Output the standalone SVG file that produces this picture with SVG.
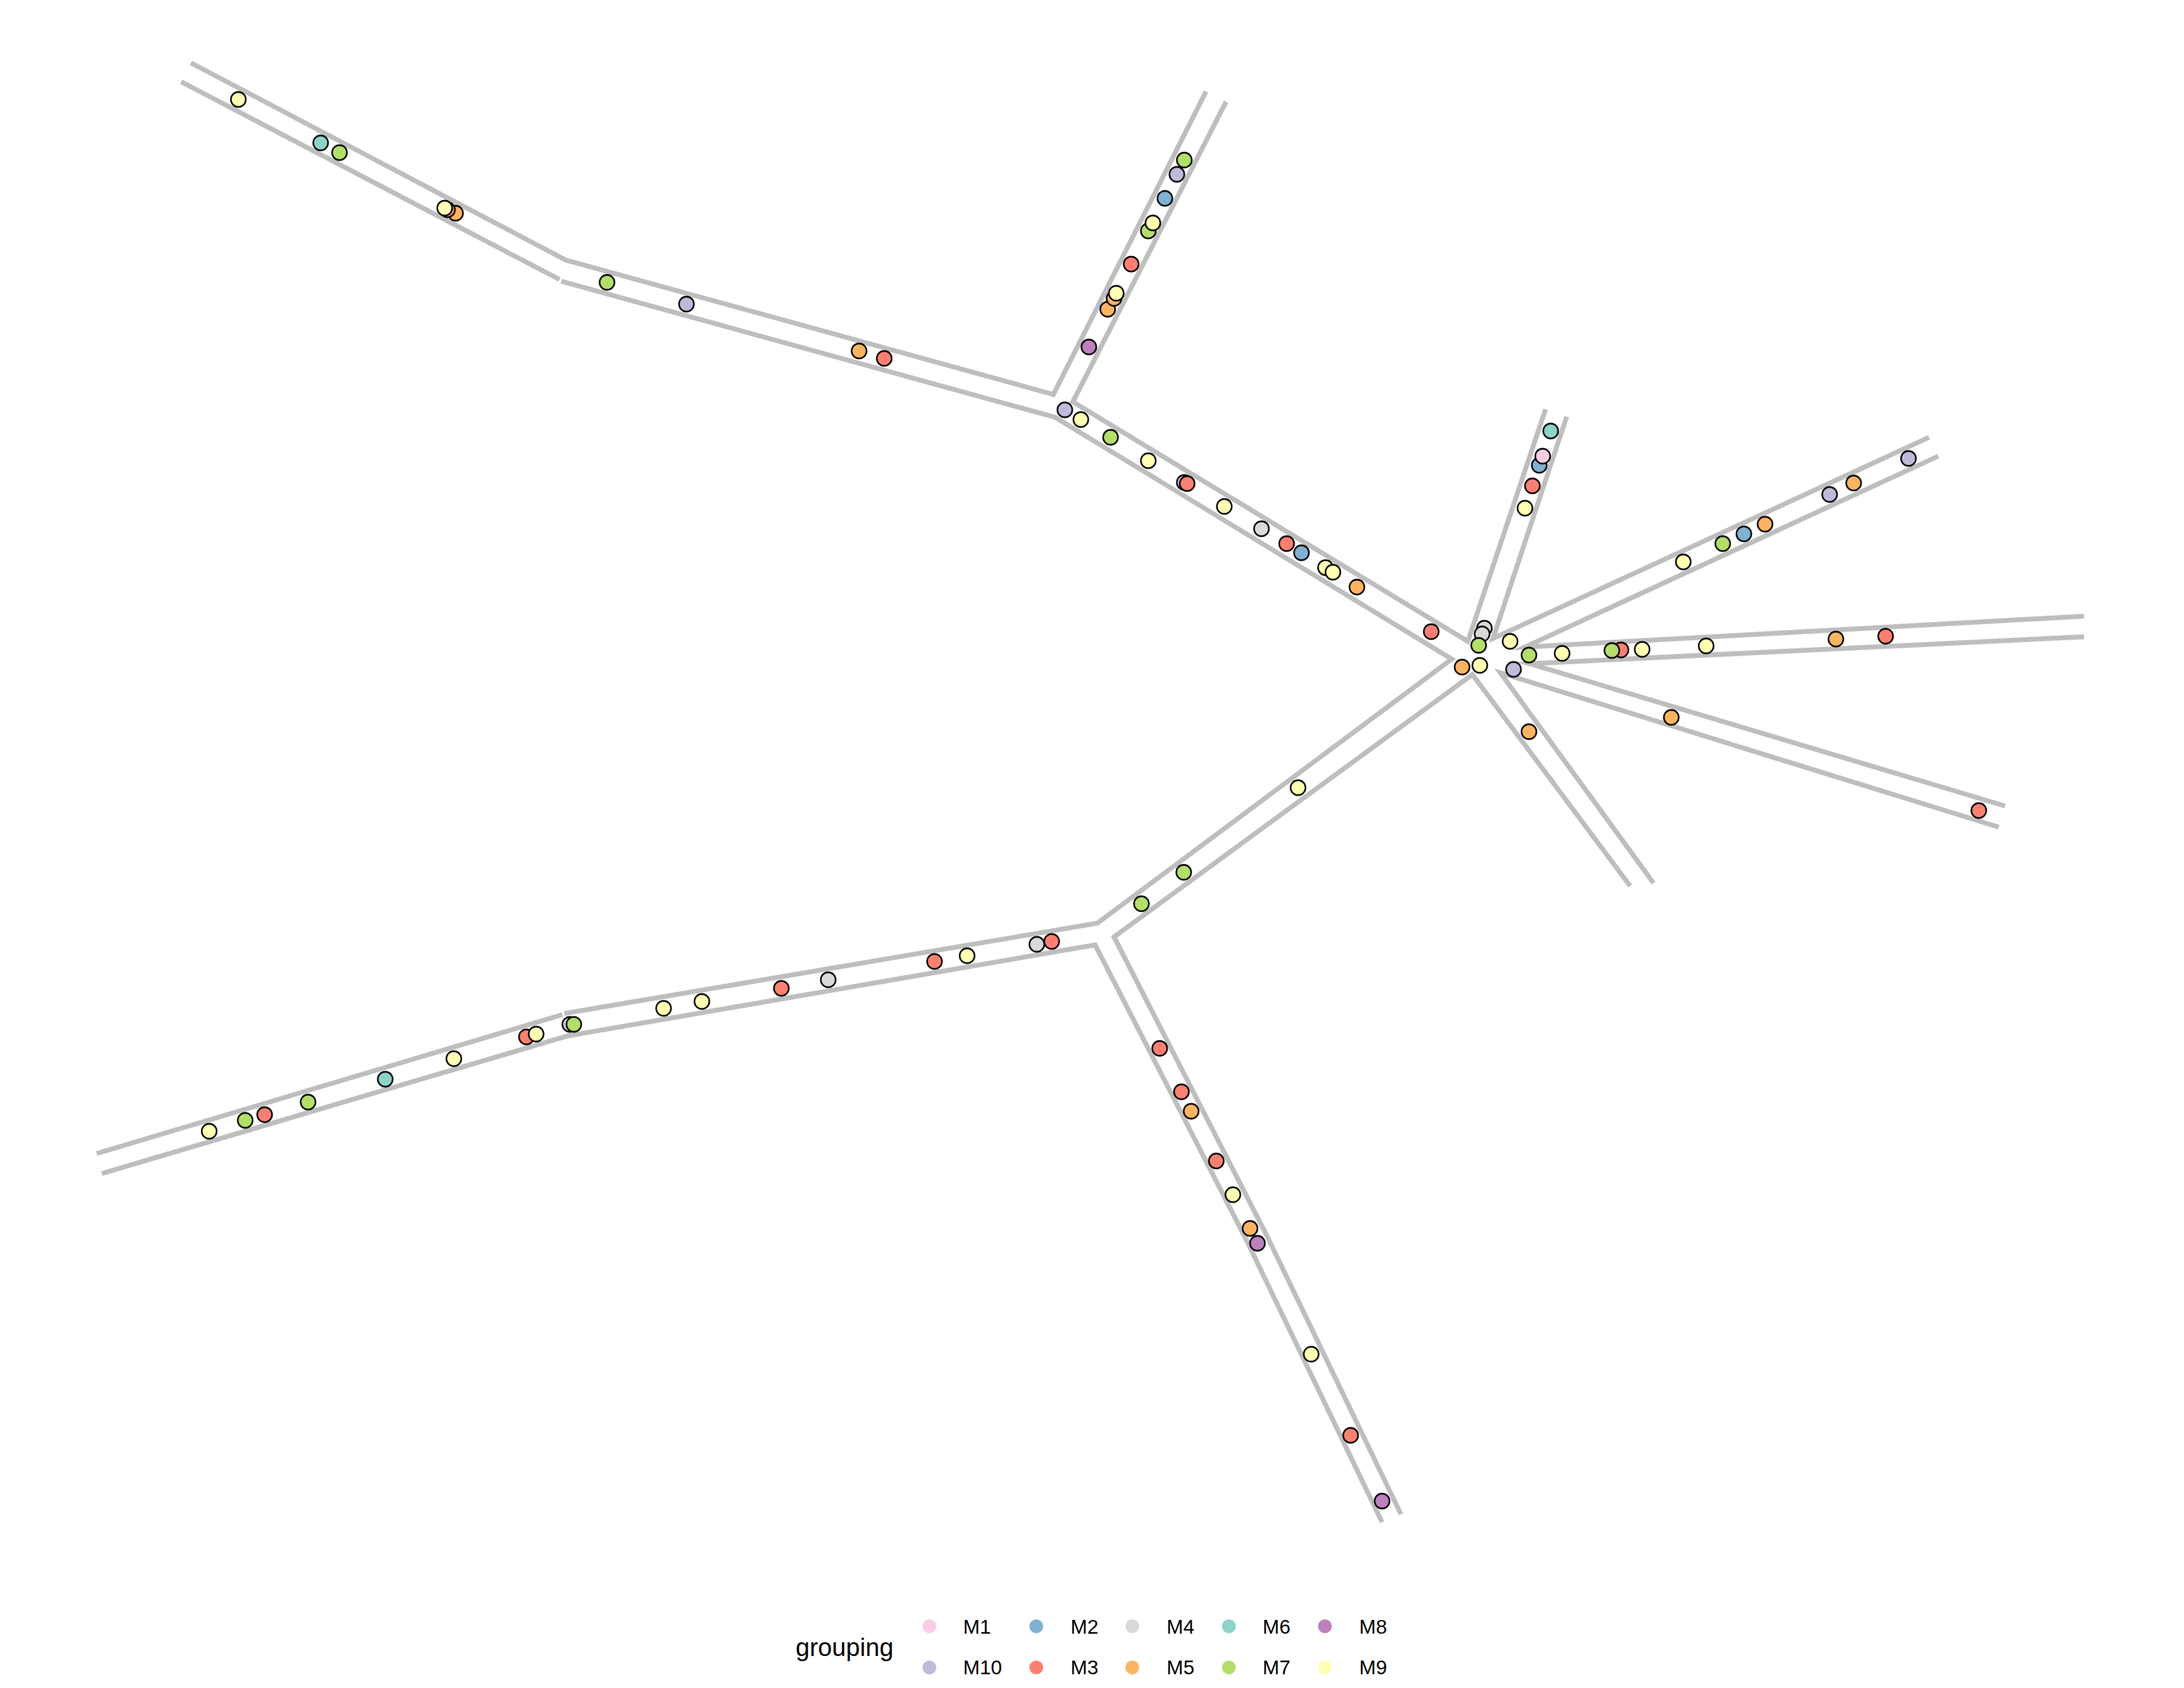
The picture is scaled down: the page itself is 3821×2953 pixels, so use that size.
<svg xmlns="http://www.w3.org/2000/svg" width="3821" height="2953" viewBox="0 0 3821 2953">
<style>
.edge{fill:none;stroke:#BEBEBE;stroke-width:8.5;stroke-linecap:butt;stroke-linejoin:miter;stroke-miterlimit:10}
.pt{stroke:#000;stroke-width:2.8}
.m1{fill:#FCCDE5}.m2{fill:#80B1D3}.m3{fill:#FB8072}.m4{fill:#D9D9D9}.m5{fill:#FDB462}
.m6{fill:#8DD3C7}.m7{fill:#B3DE69}.m8{fill:#BC80BD}.m9{fill:#FFFFB3}.m10{fill:#BEBADA}
.lt{font-family:"Liberation Sans",Arial,sans-serif;font-size:35px;fill:#000}
.title{font-family:"Liberation Sans",Arial,sans-serif;font-size:44px;fill:#000}
</style>
<rect width="3821" height="2953" fill="#fff"/>
<g id="connectors">
<polyline class="edge" points="334,110 990,455 1843,690 2110,160"/>
<polyline class="edge" points="317,143 979,489"/>
<polyline class="edge" points="982,492 1846,730 2540,1153 1920,1615 987,1773"/>
<polyline class="edge" points="984,1775 169,2018"/>
<polyline class="edge" points="2145,178 1877,703 2568,1122 2704,716"/>
<polyline class="edge" points="2741,729 2612,1117 3375,765"/>
<polyline class="edge" points="3391,798 2668,1132 3646,1078"/>
<polyline class="edge" points="3646,1114 2676,1161 3508,1410"/>
<polyline class="edge" points="3497,1447 2625,1177 2893,1545"/>
<polyline class="edge" points="2852,1550 2576,1180 1949,1639 2216,2161 2451,2649"/>
<polyline class="edge" points="2418,2663 2180,2168 1916,1653 994,1812 178,2053"/>
</g>
<g id="branch-topleft">
<circle class="pt m9" cx="417" cy="174" r="13"/>
<circle class="pt m6" cx="561" cy="250" r="13"/>
<circle class="pt m7" cx="594" cy="267" r="13"/>
<circle class="pt m5" cx="797" cy="373" r="13"/>
<circle class="pt m3" cx="783" cy="367" r="13"/>
<circle class="pt m9" cx="778" cy="364" r="13"/>
<circle class="pt m7" cx="1062" cy="494" r="13"/>
<circle class="pt m10" cx="1201" cy="532" r="13"/>
<circle class="pt m5" cx="1503" cy="614" r="13"/>
<circle class="pt m3" cx="1547" cy="627" r="13"/>
</g>
<g id="branch-up">
<circle class="pt m7" cx="2072" cy="280" r="13"/>
<circle class="pt m10" cx="2059" cy="305" r="13"/>
<circle class="pt m2" cx="2038" cy="347" r="13"/>
<circle class="pt m7" cx="2009" cy="404" r="13"/>
<circle class="pt m9" cx="2017" cy="390" r="13"/>
<circle class="pt m3" cx="1979" cy="462" r="13"/>
<circle class="pt m5" cx="1938" cy="541" r="13"/>
<circle class="pt m5" cx="1949" cy="522" r="13"/>
<circle class="pt m9" cx="1953" cy="513" r="13"/>
<circle class="pt m8" cx="1905" cy="607" r="13"/>
</g>
<g id="branch-diagonal">
<circle class="pt m10" cx="1863" cy="717" r="13"/>
<circle class="pt m9" cx="1891" cy="734" r="13"/>
<circle class="pt m7" cx="1943" cy="765" r="13"/>
<circle class="pt m9" cx="2009" cy="806" r="13"/>
<circle class="pt m4" cx="2072" cy="844" r="13"/>
<circle class="pt m3" cx="2077" cy="846" r="13"/>
<circle class="pt m9" cx="2142" cy="886" r="13"/>
<circle class="pt m4" cx="2207" cy="925" r="13"/>
<circle class="pt m3" cx="2251" cy="951" r="13"/>
<circle class="pt m2" cx="2277" cy="967" r="13"/>
<circle class="pt m9" cx="2319" cy="993" r="13"/>
<circle class="pt m9" cx="2332" cy="1001" r="13"/>
<circle class="pt m5" cx="2374" cy="1027" r="13"/>
<circle class="pt m3" cx="2504" cy="1105" r="13"/>
</g>
<g id="hub">
<circle class="pt m4" cx="2597" cy="1099" r="13"/>
<circle class="pt m4" cx="2593" cy="1109" r="13"/>
<circle class="pt m7" cx="2587" cy="1129" r="13"/>
<circle class="pt m5" cx="2558" cy="1167" r="13"/>
<circle class="pt m9" cx="2589" cy="1164" r="13"/>
<circle class="pt m9" cx="2642" cy="1122" r="13"/>
<circle class="pt m7" cx="2675" cy="1146" r="13"/>
<circle class="pt m10" cx="2648" cy="1171" r="13"/>
</g>
<g id="branch-short-top">
<circle class="pt m6" cx="2713" cy="754" r="13"/>
<circle class="pt m2" cx="2693" cy="814" r="13"/>
<circle class="pt m1" cx="2699" cy="798" r="13"/>
<circle class="pt m3" cx="2681" cy="850" r="13"/>
<circle class="pt m9" cx="2668" cy="889" r="13"/>
</g>
<g id="branch-upper-right">
<circle class="pt m9" cx="2945" cy="983" r="13"/>
<circle class="pt m7" cx="3014" cy="951" r="13"/>
<circle class="pt m2" cx="3051" cy="934" r="13"/>
<circle class="pt m5" cx="3088" cy="917" r="13"/>
<circle class="pt m10" cx="3201" cy="865" r="13"/>
<circle class="pt m5" cx="3243" cy="845" r="13"/>
<circle class="pt m10" cx="3339" cy="802" r="13"/>
</g>
<g id="branch-right">
<circle class="pt m9" cx="2733" cy="1143" r="13"/>
<circle class="pt m3" cx="2836" cy="1137" r="13"/>
<circle class="pt m7" cx="2820" cy="1138" r="13"/>
<circle class="pt m9" cx="2873" cy="1136" r="13"/>
<circle class="pt m9" cx="2985" cy="1130" r="13"/>
<circle class="pt m5" cx="3212" cy="1118" r="13"/>
<circle class="pt m3" cx="3299" cy="1113" r="13"/>
</g>
<g id="branch-lower-right">
<circle class="pt m5" cx="2924" cy="1255" r="13"/>
<circle class="pt m3" cx="3462" cy="1418" r="13"/>
</g>
<g id="branch-short-down">
<circle class="pt m5" cx="2675" cy="1280" r="13"/>
</g>
<g id="branch-to-junction">
<circle class="pt m9" cx="2271" cy="1378" r="13"/>
<circle class="pt m7" cx="2071" cy="1526" r="13"/>
<circle class="pt m7" cx="1997" cy="1581" r="13"/>
</g>
<g id="branch-bottom-left">
<circle class="pt m4" cx="1814" cy="1652" r="13"/>
<circle class="pt m3" cx="1840" cy="1647" r="13"/>
<circle class="pt m9" cx="1692" cy="1672" r="13"/>
<circle class="pt m3" cx="1635" cy="1682" r="13"/>
<circle class="pt m4" cx="1449" cy="1714" r="13"/>
<circle class="pt m3" cx="1367" cy="1729" r="13"/>
<circle class="pt m9" cx="1228" cy="1752" r="13"/>
<circle class="pt m9" cx="1161" cy="1764" r="13"/>
<circle class="pt m4" cx="997" cy="1792" r="13"/>
<circle class="pt m7" cx="1004" cy="1792" r="13"/>
<circle class="pt m3" cx="921" cy="1814" r="13"/>
<circle class="pt m9" cx="938" cy="1809" r="13"/>
<circle class="pt m9" cx="794" cy="1852" r="13"/>
<circle class="pt m6" cx="674" cy="1888" r="13"/>
<circle class="pt m7" cx="539" cy="1928" r="13"/>
<circle class="pt m3" cx="463" cy="1950" r="13"/>
<circle class="pt m7" cx="429" cy="1960" r="13"/>
<circle class="pt m9" cx="366" cy="1979" r="13"/>
</g>
<g id="branch-down">
<circle class="pt m3" cx="2029" cy="1834" r="13"/>
<circle class="pt m3" cx="2067" cy="1910" r="13"/>
<circle class="pt m5" cx="2084" cy="1944" r="13"/>
<circle class="pt m3" cx="2128" cy="2031" r="13"/>
<circle class="pt m9" cx="2157" cy="2090" r="13"/>
<circle class="pt m5" cx="2187" cy="2149" r="13"/>
<circle class="pt m8" cx="2200" cy="2175" r="13"/>
<circle class="pt m9" cx="2294" cy="2369" r="13"/>
<circle class="pt m3" cx="2363" cy="2511" r="13"/>
<circle class="pt m8" cx="2418" cy="2626" r="13"/>
</g>
<g id="legend">
<text class="title" x="1392" y="2897">grouping</text>
<circle class="m1" cx="1626" cy="2845" r="12"/><text class="lt" x="1685" y="2858">M1</text>
<circle class="m2" cx="1813" cy="2845" r="12"/><text class="lt" x="1873" y="2858">M2</text>
<circle class="m4" cx="1981" cy="2845" r="12"/><text class="lt" x="2041" y="2858">M4</text>
<circle class="m6" cx="2150" cy="2845" r="12"/><text class="lt" x="2209" y="2858">M6</text>
<circle class="m8" cx="2318" cy="2845" r="12"/><text class="lt" x="2378" y="2858">M8</text>
<circle class="m10" cx="1626" cy="2917" r="12"/><text class="lt" x="1685" y="2929">M10</text>
<circle class="m3" cx="1813" cy="2917" r="12"/><text class="lt" x="1873" y="2929">M3</text>
<circle class="m5" cx="1981" cy="2917" r="12"/><text class="lt" x="2041" y="2929">M5</text>
<circle class="m7" cx="2150" cy="2917" r="12"/><text class="lt" x="2209" y="2929">M7</text>
<circle class="m9" cx="2318" cy="2917" r="12"/><text class="lt" x="2378" y="2929">M9</text>
</g>
</svg>
